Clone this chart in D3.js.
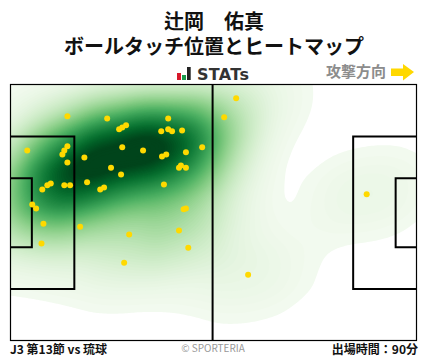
<!DOCTYPE html>
<html lang="ja">
<head>
  <meta charset="UTF-8">
  <title>辻岡 佑真 ヒートマップ</title>
  <script src="https://d3js.org/d3.v7.min.js"></script>
  <style>
    html, body { margin: 0; padding: 0; background: #fff; }
    svg { display: block; }
    text { font-family: "Noto Sans CJK JP", "Noto Sans", sans-serif; }
  </style>
</head>
<body>
  <svg id="svg" width="428" height="359"></svg>
  <script>
    // touch positions in metres, pitch is 105 x 68
    var touchX = [14.6, 24.9, 40.7, 29.8, 28.8, 28.0, 40.7, 41.7, 38.9, 44.3, 49.5, 45.3, 34.2, 28.8, 4.2, 14.6, 13.8,
      13.3, 19.0, 14.6, 40.2, 39.1, 44.0, 43.5, 45.3, 25.9, 28.5, 39.6, 19.7, 24.1, 23.1, 10.3, 9.4, 8.1, 13.8, 15.3,
      5.5, 6.5, 45.3, 44.7, 8.4, 17.9, 7.9, 30.6, 43.5, 45.9, 29.3, 58.3, 55.2, 92.1, 61.4]
    var touchY = [8.3, 8.9, 8.9, 10.7, 11.3, 11.8, 11.8, 12.3, 12.3, 12.1, 16.6, 17.9, 17.4, 16.6, 17.4, 16.3, 17.4,
      18.5, 19.3, 20.6, 18.5, 19.0, 21.4, 22.0, 22.0, 22.0, 23.8, 26.5, 25.9, 27.3, 27.8, 26.2, 26.7, 27.8, 26.7, 26.7,
      31.8, 32.9, 32.9, 33.1, 36.9, 37.7, 42.2, 39.8, 38.7, 43.3, 47.3, 3.5, 8.6, 29.1, 50.5]
    var titleLines = ['辻岡　佑真', 'ボールタッチ位置とヒートマップ']
    var matchLabel = 'J3 第13節 vs 琉球'
    var minutesLabel = '出場時間：90分'

    var svg = d3.select('#svg')
    var pitch = { left: 11, top: 85, width: 405.5, height: 255.5 }

    var x = d3.scaleLinear().domain([0, 105]).range([0, pitch.width])
    var y = d3.scaleLinear().domain([0, 68]).range([0, pitch.height])

    // title
    svg.append('text')
      .attr('text-anchor', 'middle')
      .attr('font-size', 20)
      .attr('font-weight', 700)
      .attr('fill', '#111')
      .selectAll('tspan')
      .data(titleLines)
      .enter()
      .append('tspan')
      .attr('x', 214)
      .attr('y', (d, i) => 29 + i * 25)
      .text(d => d)

    // logo
    var logo = svg.append('g').attr('transform', 'translate(177, 67)')
    logo.append('rect').attr('x', 0).attr('y', 6).attr('width', 4).attr('height', 7).attr('fill', '#d7182a')
    logo.append('rect').attr('x', 5).attr('y', 8).attr('width', 4).attr('height', 5).attr('fill', '#1a9a4a')
    logo.append('rect').attr('x', 10).attr('y', 0).attr('width', 3.7).attr('height', 13).attr('fill', '#222')
    logo.append('text')
      .attr('x', 20)
      .attr('y', 13)
      .attr('font-size', 16)
      .attr('font-weight', 700)
      .attr('textLength', 52)
      .attr('style', 'font-family: "DejaVu Sans", sans-serif')
      .attr('fill', '#333')
      .text('STATs')

    // attack direction
    svg.append('text')
      .attr('x', 326)
      .attr('y', 77)
      .attr('font-size', 15)
      .attr('font-weight', 700)
      .attr('fill', '#8c8c8c')
      .text('攻撃方向')
    svg.append('path')
      .attr('d', 'M391,68.5H403V64L414,72L403,80.5V76H391Z')
      .attr('fill', '#ffd800')

    // heat map: kernel is wider along the pitch and a little tilted,
    // so the points are stretched and sheared before the density and the contours are put back
    var yStretch = 1.45
    var shear = 0.14
    var touches = touchX.map((d, i) => [d, touchY[i]])

    var density = d3.contourDensity()
      .x(d => x(d[0]))
      .y(d => (y(d[1]) + shear * x(d[0])) * yStretch)
      .size([pitch.width, (pitch.height + shear * pitch.width) * yStretch])
      .bandwidth(38)
      .cellSize(2)

    var peak = d3.max(density.thresholds(20)(touches), d => d.value) * 1.08
    var levels = d3.range(0.014, 1, 0.011).map(d => d * peak)
    var contours = density.thresholds(levels)(touches)

    var color = d3.scaleSequential(d3.interpolateGreens).domain([-0.02 * peak, 0.88 * peak])

    svg.append('clipPath')
      .attr('id', 'pitch-clip')
      .append('rect')
      .attr('width', pitch.width)
      .attr('height', pitch.height)

    var g = svg.append('g')
      .attr('transform', 'translate(' + pitch.left + ',' + pitch.top + ')')

    g.append('g')
      .attr('clip-path', 'url(#pitch-clip)')
      .append('g')
      .attr('transform', 'matrix(1,' + (-shear) + ',0,' + (1 / yStretch) + ',0,0)')
      .selectAll('path')
      .data(contours)
      .enter()
      .append('path')
      .attr('d', d3.geoPath())
      .attr('fill', d => color(d.value))

    // pitch lines
    var lines = g.append('g').attr('fill', 'none').attr('stroke', '#000').attr('stroke-width', 2)
    var boxY = [13.7, 54.3]
    var goalY = [24.8, 43.2]
    lines.append('line').attr('x1', x(52.2)).attr('x2', x(52.2)).attr('y1', 0).attr('y2', pitch.height)
    ;[[0, 16.4, boxY], [0, 5.4, goalY], [105, 88.6, boxY], [105, 99.6, goalY]].forEach(b => {
      lines.append('path')
        .attr('d', d3.line()([[x(b[0]), y(b[2][0])], [x(b[1]), y(b[2][0])], [x(b[1]), y(b[2][1])], [x(b[0]), y(b[2][1])]]))
    })
    g.append('rect')
      .attr('x', -0.5)
      .attr('y', -0.5)
      .attr('width', pitch.width + 0.5)
      .attr('height', pitch.height + 0.5)
      .attr('fill', 'none')
      .attr('stroke', '#000')
      .attr('stroke-width', 1.2)

    // touches
    g.selectAll('circle')
      .data(touches)
      .enter()
      .append('circle')
      .attr('cx', d => x(d[0]))
      .attr('cy', d => y(d[1]))
      .attr('r', 3)
      .attr('fill', '#ffd900')

    // footer
    svg.append('text').attr('x', 10).attr('y', 354).attr('font-size', 12).attr('font-weight', 700).attr('fill', '#111').text(matchLabel)
    svg.append('text').attr('x', 213).attr('y', 352).attr('text-anchor', 'middle').attr('font-size', 10).attr('fill', '#999').text('© SPORTERIA')
    svg.append('text').attr('x', 418).attr('y', 354).attr('text-anchor', 'end').attr('font-size', 12).attr('font-weight', 700).attr('fill', '#111').text(minutesLabel)
  </script>
</body>
</html>
